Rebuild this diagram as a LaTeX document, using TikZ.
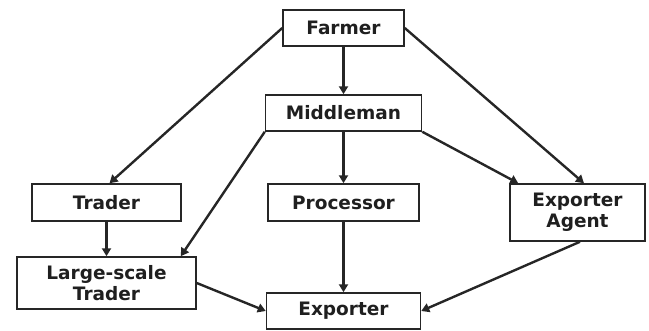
\documentclass[tikz,border=0pt]{standalone}
\usepackage{fontspec}
\setmainfont{DejaVu Sans}
\usetikzlibrary{arrows.meta,calc}
\begin{document}
\begin{tikzpicture}[x=1pt,y=-1pt,
  box/.style={draw=black!85,line width=1.5pt,fill=white,inner sep=0pt,align=center,
    font=\fontsize{18.5}{21}\selectfont\bfseries,text=black!88},
  arr/.style={draw=black!85,line width=2.4pt,-{Triangle[length=8pt,width=9pt]}}]
\useasboundingbox (0,0) rectangle (649,330);
\node[box,minimum width=121pt,minimum height=36pt] (farmer) at (343.5,28) {Farmer};
\node[box,minimum width=156pt,minimum height=36pt] (middle) at (343.5,113) {Middleman};
\node[box,minimum width=149pt,minimum height=37pt] (trader) at (106.5,202.5) {Trader};
\node[box,minimum width=151pt,minimum height=37pt] (proc) at (343.5,202.5) {Processor};
\node[box,minimum width=135pt,minimum height=57pt] (ea) at (577.5,212.5) {Exporter\\Agent};
\node[box,minimum width=179pt,minimum height=52pt] (ls) at (106.5,283) {Large-scale\\Trader};
\node[box,minimum width=154pt,minimum height=36pt] (exp) at (343.5,311) {Exporter};
\draw[arr] (farmer) -- (middle);
\draw[arr] (farmer.west) -- ($(trader.north)+(3,0)$);
\draw[arr] (farmer.east) -- ($(ea.north)+(6.5,0)$);
\draw[arr] (middle.south west) -- ($(ls.north east)+(-16,0)$);
\draw[arr] (middle) -- (proc);
\draw[arr] (middle.south east) -- ($(ea.north west)+(9,0)$);
\draw[arr] (trader) -- (ls);
\draw[arr] (proc) -- (exp);
\draw[arr] (ls.east) -- (exp.west);
\draw[arr] ($(ea.south)+(2.5,0)$) -- (exp.east);
\end{tikzpicture}
\end{document}
